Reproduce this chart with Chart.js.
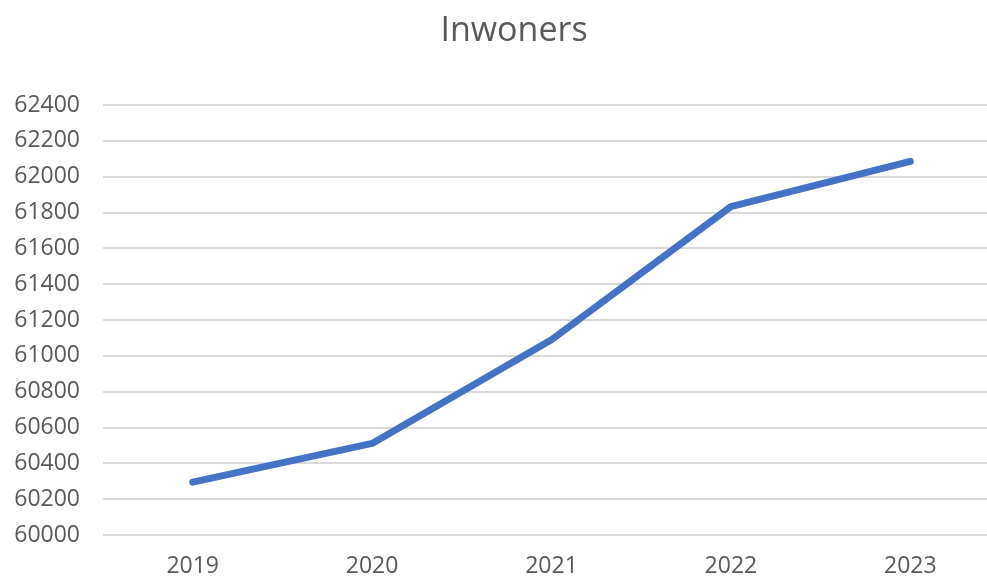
<!DOCTYPE html>
<html>
<head>
<meta charset="utf-8">
<script src="https://cdn.jsdelivr.net/npm/chart.js@4.4.0/dist/chart.umd.min.js"></script>
<style>
    html, body { margin: 0; padding: 0; background: #ffffff; overflow: hidden; }
    #wrap { width: 1000px; height: 579px; }
</style>
</head>
<body>
<div id="wrap"><canvas id="chart"></canvas></div>
<script>
// Chart data
const years = ['2019', '2020', '2021', '2022', '2023'];
const inhabitants = [60295, 60511, 61090, 61833, 62085];
const yMin = 60000;
const yMax = 62400;
const yStep = 200;
const chartTitle = 'Inwoners';

const textColor = '#595959';
const gridColor = '#d9d9d9';

// Title drawn centred over the plot area (like the Excel original)
const plotTitle = {
    id: 'plotTitle',
    afterDraw(chart) {
        const c = chart.ctx;
        const area = chart.chartArea;
        c.save();
        c.fillStyle = textColor;
        c.font = '34px "Open Sans"';
        c.textAlign = 'center';
        c.textBaseline = 'middle';
        c.fillText(chartTitle, (area.left + 925) / 2, 31);
        c.restore();
    }
};

const ctx = document.getElementById('chart');

new Chart(ctx, {
    type: 'line',
    data: {
        labels: years,
        datasets: [{
            label: chartTitle,
            data: inhabitants,
            borderColor: '#4472c4',
            backgroundColor: '#4472c4',
            borderWidth: 7,
            borderCapStyle: 'round',
            borderJoinStyle: 'round',
            pointRadius: 0,
            tension: 0,
            fill: false
        }]
    },
    options: {
        responsive: true,
        maintainAspectRatio: false,
        animation: false,
        layout: {
            padding: { left: 0, right: 0, top: 105, bottom: 0 }
        },
        plugins: {
            legend: { display: false },
            tooltip: { enabled: false },
            title: { display: false }
        },
        scales: {
            x: {
                offset: true,
                afterFit(scale) { scale.height = 44; },
                grid: { display: false },
                border: { display: false },
                ticks: {
                    color: textColor,
                    font: { family: 'Open Sans', size: 23 },
                    padding: 10,
                    maxRotation: 0
                }
            },
            y: {
                min: yMin,
                max: yMax,
                afterFit(scale) { scale.width = 103; },
                grid: {
                    color: gridColor,
                    lineWidth: 2,
                    drawTicks: false
                },
                border: { display: false },
                ticks: {
                    stepSize: yStep,
                    color: textColor,
                    padding: 23,
                    font: { family: 'Open Sans', size: 23 },
                    callback: value => value
                }
            }
        }
    },
    plugins: [plotTitle]
});
</script>
</body>
</html>
